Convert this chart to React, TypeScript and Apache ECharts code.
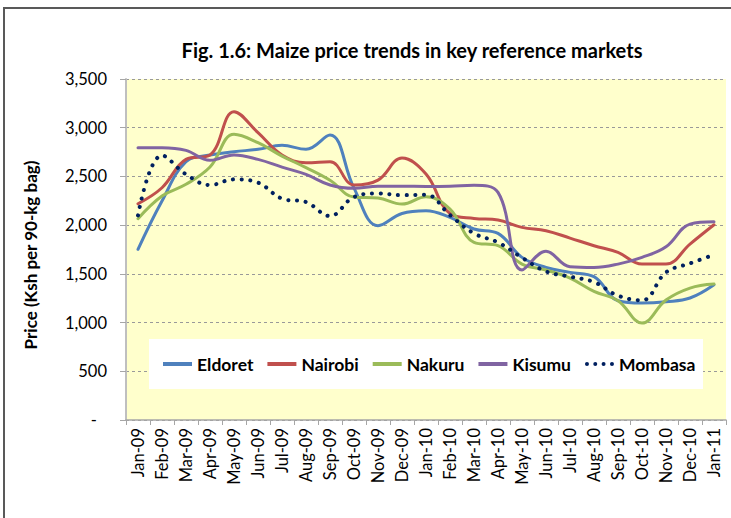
import React, { useEffect, useRef } from "react";
import * as echarts from "echarts";

const categories = [
  "Jan-09", "Feb-09", "Mar-09", "Apr-09", "May-09", "Jun-09", "Jul-09", "Aug-09", "Sep-09", "Oct-09", "Nov-09", "Dec-09",
  "Jan-10", "Feb-10", "Mar-10", "Apr-10", "May-10", "Jun-10", "Jul-10", "Aug-10", "Sep-10", "Oct-10", "Nov-10", "Dec-10",
  "Jan-11",
];
const eldoret = [1752, 2248, 2651, 2720, 2754, 2778, 2819, 2778, 2925, 2380, 1994, 2120, 2148, 2079, 1960, 1915, 1669, 1566, 1515, 1471, 1224, 1200, 1214, 1252, 1388];
const nairobi = [2220, 2384, 2675, 2720, 3164, 2949, 2720, 2641, 2651, 2412, 2462, 2688, 2524, 2120, 2069, 2052, 1977, 1943, 1867, 1789, 1720, 1600, 1600, 1806, 2004];
const nakuru = [2066, 2299, 2419, 2596, 2932, 2846, 2709, 2590, 2460, 2289, 2278, 2216, 2291, 2165, 1823, 1789, 1600, 1539, 1457, 1320, 1224, 995, 1231, 1354, 1395];
const kisumu = [2795, 2795, 2767, 2665, 2720, 2675, 2596, 2521, 2412, 2378, 2400, 2400, 2397, 2400, 2410, 2336, 1540, 1731, 1573, 1566, 1600, 1669, 1778, 2011, 2035];
const mombasa = [2100, 2716, 2521, 2412, 2470, 2436, 2272, 2237, 2094, 2289, 2326, 2308, 2312, 2103, 1915, 1823, 1666, 1525, 1471, 1416, 1276, 1228, 1515, 1607, 1696];

const FONT = "Lato, 'Open Sans', sans-serif";
const DOTS_ICON =
  "path://M0,2a2,2 0 1,0 4,0a2,2 0 1,0 -4,0M8.3,2a2,2 0 1,0 4,0a2,2 0 1,0 -4,0M16.6,2a2,2 0 1,0 4,0a2,2 0 1,0 -4,0M25,2a2,2 0 1,0 4,0a2,2 0 1,0 -4,0";

export default function App() {
  const ref = useRef<HTMLDivElement>(null);
  useEffect(() => {
    if (!ref.current) return;
    const chart = echarts.init(ref.current, null, { renderer: "svg" });
    const line = (name: string, data: number[], color: string, dotted = false) => ({
      name,
      type: "line",
      data,
      smooth: 0.4,
      symbol: "none",
      z: 2,
      itemStyle: { color },
      lineStyle: dotted
        ? { color, width: 4, type: [0.1, 8.6], cap: "round" }
        : { color, width: 3, cap: "round" },
    });
    chart.setOption({
      animation: false,
      backgroundColor: "#ffffff",
      textStyle: { fontFamily: FONT },
      title: {
        text: "Fig. 1.6: Maize price trends in key reference markets",
        left: 407,
        top: 35,
        textAlign: "center",
        textStyle: { fontFamily: FONT, fontWeight: "bold", fontSize: 20, color: "#000" },
      },
      grid: {
        left: 126,
        right: 5,
        top: 79,
        bottom: 98,
        show: true,
        backgroundColor: "#FFFFCC",
        borderWidth: 0,
      },
      legend: {
        left: 163,
        top: 355,
        padding: 0,
        itemGap: 14,
        itemWidth: 29,
        itemHeight: 4,
        z: 5,
        textStyle: { fontFamily: FONT, fontWeight: "bold", fontSize: 17.5, color: "#000" },
        data: [
          { name: "Eldoret", icon: "rect" },
          { name: "Nairobi", icon: "rect" },
          { name: "Nakuru", icon: "rect" },
          { name: "Kisumu", icon: "rect" },
          { name: "Mombasa", icon: DOTS_ICON },
        ],
      },
      xAxis: {
        type: "category",
        data: categories,
        boundaryGap: true,
        axisLine: { show: true, lineStyle: { color: "#A6A6A6", width: 1.5 } },
        axisTick: { show: true, length: 5, lineStyle: { color: "#A6A6A6" } },
        axisLabel: { rotate: 90, margin: 8, fontSize: 16.5, color: "#000", fontFamily: FONT, interval: 0 },
      },
      yAxis: {
        type: "value",
        min: 0,
        max: 3500,
        interval: 500,
        axisLine: { show: true, lineStyle: { color: "#BFBFBF", width: 2 } },
        axisTick: { show: true, length: 6, lineStyle: { color: "#A6A6A6" } },
        splitLine: { show: true, lineStyle: { color: "#999999", type: [3, 3], width: 1 } },
        axisLabel: {
          margin: 19,
          fontSize: 16.5,
          color: "#000",
          fontFamily: FONT,
          formatter: (v: number) => (v === 0 ? "{d|-}" : v.toLocaleString("en-US")),
          rich: { d: { fontSize: 16.5, color: "#000", fontFamily: FONT, padding: [0, 10, 0, 0] } },
        },
      },
      graphic: [
        {
          type: "rect",
          z: 0,
          silent: true,
          shape: { x: 4, y: 8, width: 800, height: 600 },
          style: { fill: "none", stroke: "#595959", lineWidth: 2 },
        },
        {
          type: "rect",
          z: 3,
          silent: true,
          shape: { x: 149, y: 339, width: 554, height: 50 },
          style: { fill: "#ffffff" },
        },
        {
          type: "text",
          x: 30,
          y: 255,
          rotation: Math.PI / 2,
          style: {
            text: "Price (Ksh per 90-kg bag)",
            fontFamily: FONT,
            fontWeight: "bold",
            fontSize: 17,
            fill: "#000",
            align: "center",
            verticalAlign: "middle",
          },
        },
      ],
      series: [
        line("Eldoret", eldoret, "#4F81BD"),
        line("Nairobi", nairobi, "#C0504D"),
        line("Nakuru", nakuru, "#9BBB59"),
        line("Kisumu", kisumu, "#8064A2"),
        line("Mombasa", mombasa, "#002060", true),
      ],
    });
    return () => chart.dispose();
  }, []);
  return <div ref={ref} style={{ position: "fixed", left: 0, top: 0, width: 731, height: 518 }} />;
}
